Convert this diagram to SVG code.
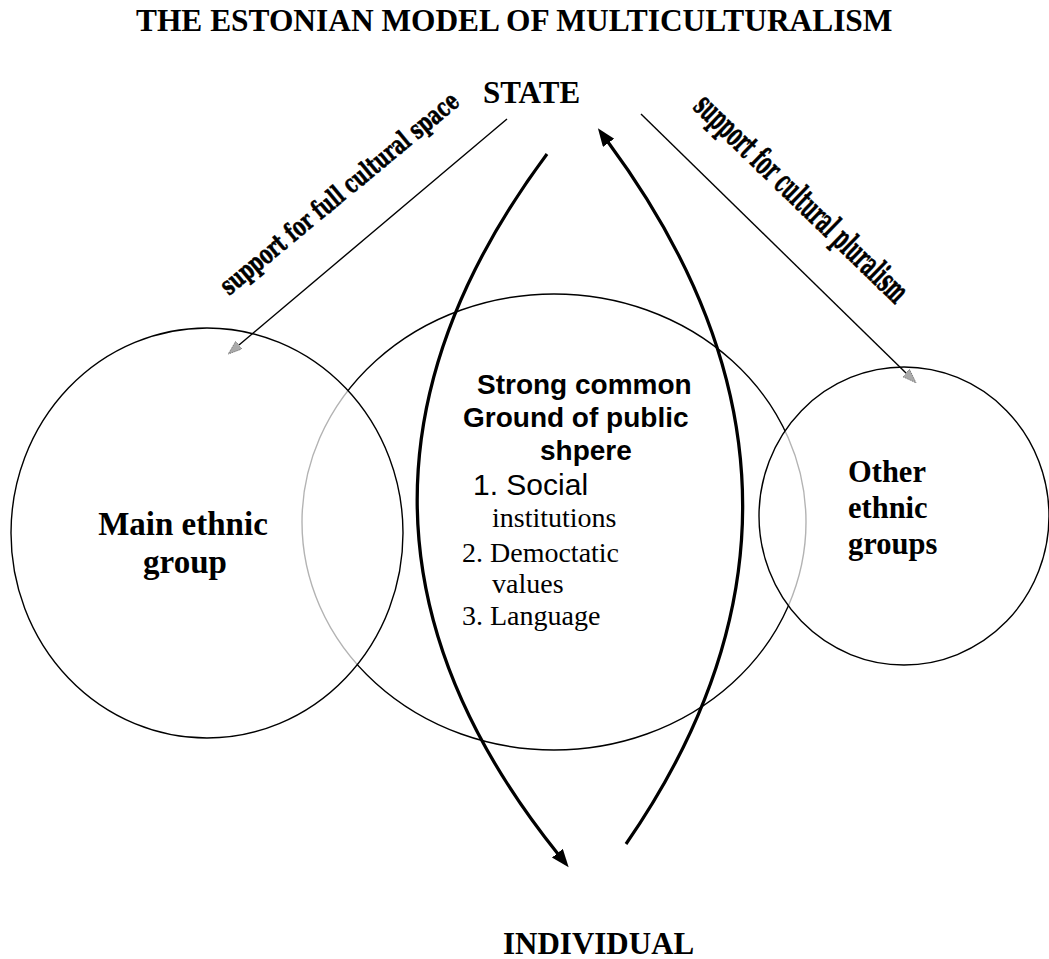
<svg xmlns="http://www.w3.org/2000/svg" width="1049" height="959" viewBox="0 0 1049 959">
<style>
.serifb{font-family:"Liberation Serif","Times New Roman",serif;font-weight:bold;fill:#000}
.serif{font-family:"Liberation Serif","Times New Roman",serif;fill:#000}
.sansb{font-family:"Liberation Sans",Arial,sans-serif;font-weight:bold;fill:#000}
.sans{font-family:"Liberation Sans",Arial,sans-serif;fill:#000}
.lbl{font-family:"DejaVu Serif","Liberation Serif",serif;font-weight:bold;font-stretch:condensed;fill:#000;stroke:#000;stroke-width:0.6}
.ring{stroke:#000;stroke-width:1.4}
.thin{fill:none;stroke:#000;stroke-width:1.4}
.thick{fill:none;stroke:#000;stroke-width:3.2}
</style>
<defs>
<marker id="headThick" markerUnits="userSpaceOnUse" markerWidth="20" markerHeight="16" refX="1" refY="7" orient="auto">
<path d="M0,0 L18,7 L0,14 Z" fill="#000"/>
</marker>
<marker id="headThin" markerUnits="userSpaceOnUse" markerWidth="16" markerHeight="12" refX="0" refY="5" orient="auto">
<path d="M0,0 L14,5 L0,10 Z" fill="#aaa" stroke="#666" stroke-width="0.8" stroke-dasharray="1.2,0.8"/>
</marker>
</defs>

<text id="title" class="serifb" x="136" y="31" font-size="31.4">THE ESTONIAN MODEL OF MULTICULTURALISM</text>

<g id="node-common">
<ellipse class="ring" cx="554" cy="522" rx="252" ry="228" fill="#fff"/>
</g>
<g id="node-main">
<ellipse class="ring" cx="207" cy="533" rx="196" ry="205" fill="#fff" fill-opacity="0.7"/>
<text class="serifb" font-size="33" text-anchor="middle"><tspan x="183" y="535">Main ethnic</tspan><tspan x="185" y="573">group</tspan></text>
</g>
<g id="node-other">
<ellipse class="ring" cx="904" cy="516" rx="145" ry="149" fill="#fff" fill-opacity="0.7"/>
<text class="serifb" font-size="30.5"><tspan x="848" y="482">Other</tspan><tspan x="848" y="518">ethnic</tspan><tspan x="848" y="554">groups</tspan></text>
</g>
<g id="node-common-text">
<text class="sansb" font-size="28"><tspan x="477" y="394">Strong common</tspan><tspan x="463" y="427">Ground of public</tspan><tspan x="540" y="460">shpere</tspan></text>
<text class="sans" x="473" y="495" font-size="30">1. Social</text>
<text class="serif" font-size="28"><tspan x="492" y="527">institutions</tspan><tspan x="462" y="562">2. Democtatic</tspan><tspan x="492" y="593">values</tspan><tspan x="462" y="625">3. Language</tspan></text>
</g>

<g id="node-state">
<text class="serifb" x="483" y="103" font-size="31">STATE</text>
</g>
<g id="node-individual">
<text class="serifb" x="503" y="954" font-size="31">INDIVIDUAL</text>
</g>

<g id="connectors">
<path class="thin" d="M507,119 L239,345" marker-end="url(#headThin)"/>
<path class="thin" d="M641,114 L906,373" marker-end="url(#headThin)"/>
<path class="thick" d="M547,154 Q282,510 558,854" marker-end="url(#headThick)"/>
<path class="thick" d="M626,844 Q868,494 608,142" marker-end="url(#headThick)"/>
<text class="lbl" font-size="26" x="229" y="296" transform="rotate(-39.6 229 296)" textLength="301" lengthAdjust="spacingAndGlyphs">support for full cultural space</text>
<text class="lbl" font-size="33" x="692" y="108" transform="rotate(44.1 692 108)" textLength="283" lengthAdjust="spacingAndGlyphs">support for cultural pluralism</text>
</g>
</svg>
